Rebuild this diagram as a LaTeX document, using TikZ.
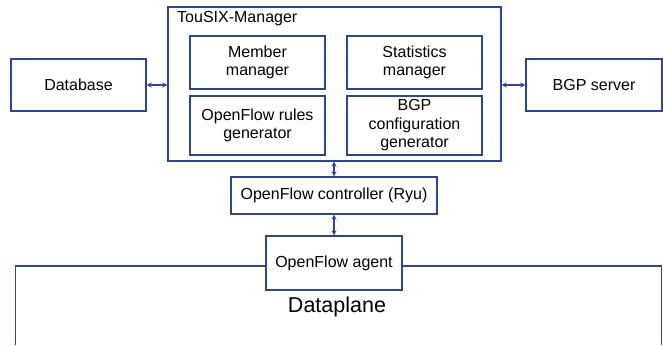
\documentclass[tikz,border=0pt]{standalone}
\usepackage{fontspec}
\setmainfont{Liberation Sans}
\usetikzlibrary{arrows.meta}
\definecolor{dblue}{HTML}{2E4592}
\begin{document}
\begin{tikzpicture}[x=1pt,y=-1pt,
  box/.style={draw=dblue,line width=1.4pt,inner sep=0pt,align=center,
    font=\fontsize{16}{18.5}\selectfont,text=black},
  link/.style={draw=dblue,line width=1.2pt,{Stealth[length=5pt,width=5pt]}-{Stealth[length=5pt,width=5pt]}},
  plane/.style={draw=dblue,line width=1.4pt}]
\useasboundingbox (0,0) rectangle (663,345);
\node[box,minimum width=333pt,minimum height=154pt] (mgr) at (334.5,84) {};
\node[anchor=west,inner sep=0pt,font=\fontsize{16}{18.5}\selectfont] (title) at (177,18.5) {TouSIX-Manager};
\node[box,minimum width=135pt,minimum height=53pt] (mem) at (257.5,62.5) {Member\\manager};
\node[box,minimum width=135pt,minimum height=59pt] (ofr) at (257.5,125.5) {OpenFlow rules\\generator};
\node[box,minimum width=135pt,minimum height=53pt] (stat) at (414.5,62.5) {Statistics\\manager};
\node[box,minimum width=135pt,minimum height=59pt] (bgpc) at (414.5,125.5) {BGP\\configuration\\generator};
\node[box,minimum width=135pt,minimum height=52pt] (db) at (78.5,85) {Database};
\node[box,minimum width=136pt,minimum height=52pt] (bgps) at (594,85) {BGP server};
\node[box,minimum width=206pt,minimum height=37pt] (ctrl) at (334,195.5) {OpenFlow controller (Ryu)};
\node[box,minimum width=136pt,minimum height=54pt] (agent) at (334,263) {OpenFlow agent};
\node[inner sep=0pt,font=\fontsize{21.5}{24}\selectfont] (dp) at (337,307) {Dataplane};
\draw[link] (db.east) -- (db.east -| mgr.west);
\draw[link] (mgr.east |- bgps.west) -- (bgps.west);
\draw[link] (mgr.south -| ctrl.north) -- (ctrl.north);
\draw[link] (ctrl.south) -- (agent.north);
\coordinate (tl) at (15.5,266);
\coordinate (bl) at (15.5,345);
\coordinate (tr) at (661.5,266);
\coordinate (br) at (661.5,345);
\draw[plane] (agent.west |- tl) -- (tl) -- (bl);
\draw[plane] (agent.east |- tr) -- (tr) -- (br);
\end{tikzpicture}
\end{document}
